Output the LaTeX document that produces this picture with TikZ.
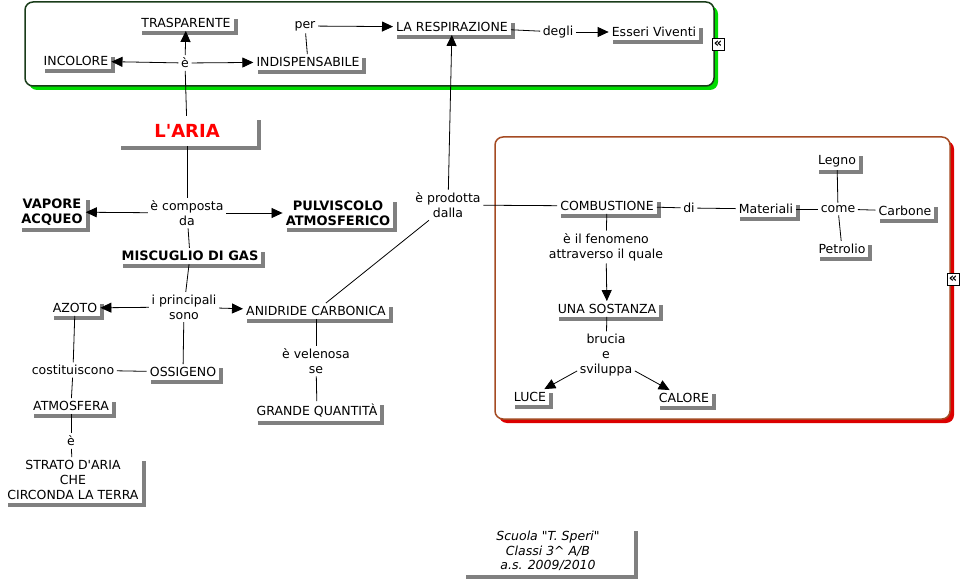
\documentclass[tikz,border=0pt]{standalone}
\usepackage{fontspec}
\setmainfont{DejaVu Sans}
\usetikzlibrary{arrows.meta,shadows}
\definecolor{framegreen}{RGB}{25,60,25}
\definecolor{shadegreen}{RGB}{0,220,0}
\definecolor{framebrown}{RGB}{165,75,35}
\definecolor{shadered}{RGB}{220,0,0}
\definecolor{shadegray}{RGB}{128,128,128}

\begin{document}
\begin{tikzpicture}[x=1pt,y=-1pt,
  font=\fontsize{12.5}{15}\selectfont,
  concept/.style={fill=white,inner sep=3pt,align=center,
    drop shadow={shadow xshift=4pt,shadow yshift=-4pt,fill=shadegray,opacity=1}},
  link/.style={inner sep=2.5pt,align=center},
  strong/.style={font=\fontsize{13}{15}\selectfont\bfseries},
  ln/.style={line width=0.8pt},
  arr/.style={line width=0.8pt,-{Triangle[length=11pt,width=10pt]}},
  icon/.style={draw,line width=0.8pt,fill=white,inner sep=0pt,minimum size=12pt,font=\fontsize{13}{13}\selectfont\bfseries}]
  \useasboundingbox (0,0) rectangle (962,583);

  \fill[shadegreen,rounded corners=8pt] (29,6) rectangle (718,90);
  \filldraw[fill=white,draw=framegreen,line width=1.5pt,rounded corners=8pt] (25,2) rectangle (714,86);
  \fill[shadered,rounded corners=8pt] (499,141) rectangle (954,423);
  \filldraw[fill=white,draw=framebrown,line width=1.5pt,rounded corners=8pt] (495,137) rectangle (950,419);

  \node[concept] (trasparente) at (186,23) {TRASPARENTE};
  \node[concept] (incolore) at (76,61) {INCOLORE};
  \node[link] (e1) at (185,63) {è};
  \node[concept] (indisp) at (308,62) {INDISPENSABILE};
  \node[link] (per) at (305,26) {per};
  \node[concept] (respir) at (452,27) {LA RESPIRAZIONE};
  \node[link] (degli) at (558,32) {degli};
  \node[concept] (esseri) at (654,32) {Esseri Viventi};
  \node[icon] (exp1) at (718,44) {«};

  \node[concept,minimum width=140pt,minimum height=30pt,font=\fontsize{18}{20}\selectfont\bfseries,text=red] (aria) at (187,131) {L\textquotesingle ARIA};
  \node[link] (composta) at (187,213) {è composta\\da};
  \node[concept,strong] (vapore) at (52,212) {VAPORE\\ACQUEO};
  \node[concept,strong] (pulviscolo) at (338,213) {PULVISCOLO\\ATMOSFERICO};
  \node[concept,strong] (miscuglio) at (190,256) {MISCUGLIO DI GAS};
  \node[link] (principali) at (184,307) {i principali\\sono};
  \node[concept] (azoto) at (75,308) {AZOTO};
  \node[concept] (anidride) at (316,311) {ANIDRIDE CARBONICA};
  \node[concept] (ossigeno) at (183,372) {OSSIGENO};
  \node[link] (costit) at (73,370) {costituiscono};
  \node[concept] (atmosfera) at (71,406) {ATMOSFERA};
  \node[link] (e2) at (71,441) {è};
  \node[concept,minimum width=138pt] (strato) at (73,480) {STRATO D\textquotesingle ARIA\\CHE\\CIRCONDA LA TERRA};
  \node[link] (velenosa) at (316,361) {è velenosa\\se};
  \node[concept] (grande) at (317,411) {GRANDE QUANTITÀ};
  \node[link] (prodotta) at (448,205) {è prodotta\\dalla};

  \node[concept] (combust) at (607,206) {COMBUSTIONE};
  \node[link] (di) at (689,208) {di};
  \node[concept] (materiali) at (766,209) {Materiali};
  \node[link] (come) at (838,209) {come};
  \node[concept] (carbone) at (905,211) {Carbone};
  \node[concept] (legno) at (837,161) {Legno};
  \node[concept] (petrolio) at (842,249) {Petrolio};
  \node[link] (fenomeno) at (606,247) {è il fenomeno\\attraverso il quale};
  \node[concept] (sostanza) at (607,309) {UNA SOSTANZA};
  \node[link] (brucia) at (606,355) {brucia\\e\\sviluppa};
  \node[concept] (luce) at (530,397) {LUCE};
  \node[concept] (calore) at (684,398) {CALORE};
  \node[icon] (exp2) at (953,279) {«};

  \node[concept,minimum width=172pt,minimum height=48pt,font=\fontsize{12.5}{14.5}\selectfont\itshape] (scuola) at (548,551) {Scuola \textquotedbl T. Speri\textquotedbl\\Classi 3\^{} A/B\\a.s. 2009/2010};

  \draw[ln] (aria) -- (e1);
  \draw[arr] (e1) -- (trasparente);
  \draw[arr] (e1) -- (incolore);
  \draw[arr] (e1) -- (indisp);
  \draw[ln] (indisp) -- (per);
  \draw[arr] (per) -- (respir);
  \draw[ln] (respir) -- (degli);
  \draw[arr] (degli) -- (esseri);
  \draw[arr] (prodotta) -- (respir);
  \draw[ln] (prodotta) -- (combust);
  \draw[ln] (anidride) -- (prodotta);
  \draw[ln] (aria) -- (composta);
  \draw[arr] (composta) -- (vapore);
  \draw[arr] (composta) -- (pulviscolo);
  \draw[ln] (composta) -- (miscuglio);
  \draw[ln] (miscuglio) -- (principali);
  \draw[arr] (principali) -- (azoto);
  \draw[arr] (principali) -- (anidride);
  \draw[ln] (principali) -- (ossigeno);
  \draw[ln] (azoto) -- (costit);
  \draw[ln] (costit) -- (ossigeno);
  \draw[ln] (costit) -- (atmosfera);
  \draw[ln] (atmosfera) -- (e2);
  \draw[ln] (e2) -- (strato);
  \draw[ln] (anidride) -- (velenosa);
  \draw[ln] (velenosa) -- (grande);
  \draw[ln] (combust) -- (di);
  \draw[ln] (di) -- (materiali);
  \draw[ln] (materiali) -- (come);
  \draw[ln] (come) -- (carbone);
  \draw[ln] (legno) -- (come);
  \draw[ln] (come) -- (petrolio);
  \draw[ln] (combust) -- (fenomeno);
  \draw[arr] (fenomeno) -- (sostanza);
  \draw[ln] (sostanza) -- (brucia);
  \draw[arr] (brucia) -- (luce);
  \draw[arr] (brucia) -- (calore);
\end{tikzpicture}
\end{document}
